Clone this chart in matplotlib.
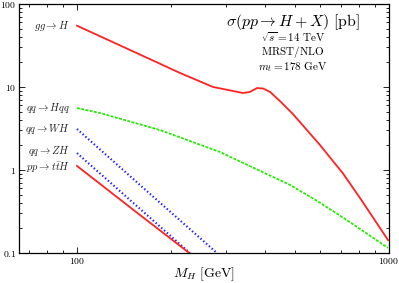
#!/usr/bin/env python
# -*- coding: utf-8 -*-

"""
Higgs production cross sections at the LHC, sqrt(s) = 14 TeV.
"""

# Third party modules.
import matplotlib
matplotlib.use("Agg")
import matplotlib.pyplot as plt
from matplotlib.ticker import FixedLocator, LogLocator, NullFormatter

# Globals and constants variables.
plt.rcParams["mathtext.fontset"] = "cm"
plt.rcParams["font.family"] = "serif"
plt.rcParams["font.serif"] = ["DejaVu Serif"]

mh_gg = [100, 148, 214, 273, 305, 340, 358, 378, 395, 416, 447, 492, 518, 601, 657, 712, 819, 993]
xs_gg = [54.8, 27.9, 14.75, 10.0, 9.2, 8.47, 8.71, 9.72, 9.59, 8.71, 6.78, 4.73, 3.79, 2.0, 1.32, 0.91, 0.425, 0.143]

mh_qqh = [100, 118.5, 184.5, 287, 482, 579, 670, 750, 993]
xs_qqh = [5.58, 4.86, 3.03, 1.65, 0.66, 0.44, 0.31, 0.235, 0.115]

mh_wh = [100, 170, 281]
xs_wh = [3.12, 0.53, 0.1]

mh_zh = [100, 160, 230]
xs_zh = [1.60, 0.335, 0.1]

mh_tth = [100, 160, 229]
xs_tth = [1.12, 0.283, 0.1]

proc_labels = [r"$gg\to H$", r"$qq\to Hqq$", r"$qq\to WH$", r"$qq\to ZH$", r"$pp\to t\bar{t}H$"]
proc_label_y = [54.3, 5.58, 3.12, 1.70, 1.07]

info_lines = [r"$\sqrt{s}=14\ \mathrm{TeV}$", r"$\mathrm{MRST/NLO}$", r"$m_t=178\ \mathrm{GeV}$"]

x_ticks = [100, 1000]
x_tick_labels = ["$100$", "$1000$"]
y_ticks = [0.1, 1, 10, 100]
y_tick_labels = ["$0.1$", "$1$", "$10$", "$100$"]


def plot_cross_sections():
    fig = plt.figure(figsize=(3.99, 2.83), dpi=100)
    ax = fig.add_axes([19 / 399, 1 - 253 / 283, 370 / 399, 249 / 283])

    red = "#ff2222"
    green = "#22ee00"
    blue = "#2222ff"

    ax.plot(mh_gg, xs_gg, color=red, lw=1.3)
    ax.plot(mh_qqh, xs_qqh, color=green, lw=1.3, ls=(0, (1.6, 0.8)))
    ax.plot(mh_wh, xs_wh, color=blue, lw=1.5, ls=(0, (0.7, 1.1)))
    ax.plot(mh_zh, xs_zh, color=blue, lw=1.5, ls=(0, (0.7, 1.1)))
    ax.plot(mh_tth, xs_tth, color=red, lw=1.3)

    ax.set_xscale("log")
    ax.set_yscale("log")
    ax.set_xlim(65.2, 1000)
    ax.set_ylim(0.1, 100)

    ax.xaxis.set_major_locator(FixedLocator(x_ticks))
    ax.set_xticklabels(x_tick_labels)
    ax.xaxis.set_minor_locator(LogLocator(base=10, subs=range(2, 10)))
    ax.xaxis.set_minor_formatter(NullFormatter())
    ax.yaxis.set_major_locator(FixedLocator(y_ticks))
    ax.set_yticklabels(y_tick_labels)
    ax.yaxis.set_minor_locator(LogLocator(base=10, subs=range(2, 10)))
    ax.yaxis.set_minor_formatter(NullFormatter())

    ax.tick_params(which="both", direction="in", top=True, right=True,
                   labelsize=7, width=0.6, pad=2)
    ax.tick_params(which="major", length=4)
    ax.tick_params(which="minor", length=2)
    for spine in ax.spines.values():
        spine.set_linewidth(0.9)

    for label, y in zip(proc_labels, proc_label_y):
        ax.text(95, y, label, ha="right", va="center", fontsize=7.6, color="#222222")

    ax.text(0.74, 0.928, r"$\sigma(pp\to H+X)\ [\mathrm{pb}]$", transform=ax.transAxes,
            ha="center", va="center", fontsize=11.4)
    ax.text(0.74, 0.805, "\n".join(info_lines), transform=ax.transAxes,
            ha="center", va="center", multialignment="center", fontsize=8, linespacing=1.0)

    ax.set_xlabel(r"$M_H\ [\mathrm{GeV}]$", fontsize=10, labelpad=0)

    fig.savefig("out.png", dpi=100)


if __name__ == '__main__':
    plot_cross_sections()
